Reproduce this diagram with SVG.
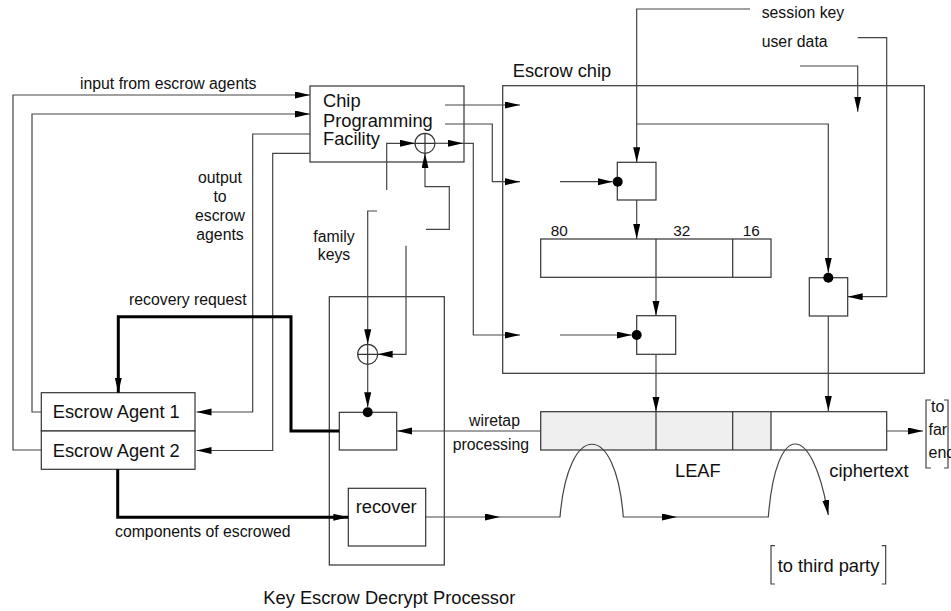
<svg xmlns="http://www.w3.org/2000/svg" width="951" height="611" viewBox="0 0 951 611">
<defs>
<style>
.ln{fill:none;stroke:#444;stroke-width:1.2}
.th{fill:none;stroke:#000;stroke-width:3}
.bx{fill:#fff;stroke:#333;stroke-width:1.2}
.dv{stroke:#333;stroke-width:1.2}
.dot{fill:#000}
text{font-family:"Liberation Sans",Arial,sans-serif;fill:#111}
.sm{font-size:15.8px}
.lg{font-size:18.3px}
.md{font-size:15.3px}
.fe{font-size:16px}
</style>
<marker id="ah" markerUnits="userSpaceOnUse" markerWidth="16" markerHeight="8" refX="15" refY="3.5" orient="auto"><path d="M0,0 L15,3.5 L0,7 z" fill="#000"/></marker>
</defs>
<rect width="951" height="611" fill="#fff"/>

<g id="cpf">
<rect class="bx" x="310" y="86" width="154" height="76"/>
<text class="lg" x="323" y="107">Chip</text>
<text class="lg" x="323" y="127">Programming</text>
<text class="lg" x="323" y="145">Facility</text>
<circle class="bx" cx="425" cy="143.3" r="10"/>
<path class="dv" d="M415,143.3 H435 M425,133.3 V153.3"/>
</g>

<g id="escrow-chip">
<rect class="bx" x="502.7" y="85.7" width="421.6" height="287.6" fill="none"/>
<text class="lg" x="512.7" y="76.7">Escrow chip</text>
</g>

<g id="box1">
<rect class="bx" x="617.3" y="162.3" width="38.7" height="37.7"/>
<circle class="dot" cx="617.7" cy="181.7" r="5"/>
</g>

<g id="register">
<rect class="bx" x="540.7" y="239" width="230.3" height="38.3"/>
<path class="dv" d="M656,239 V277.3 M732.7,239 V277.3"/>
<text class="md" x="550.7" y="235.7">80</text>
<text class="md" x="673.3" y="235.7">32</text>
<text class="md" x="742.7" y="235.7">16</text>
</g>

<g id="box2">
<rect class="bx" x="636.7" y="315.7" width="39" height="38.6"/>
<circle class="dot" cx="636.7" cy="335" r="5"/>
</g>

<g id="box3">
<rect class="bx" x="809.3" y="277.7" width="38.4" height="38.3"/>
<circle class="dot" cx="828.3" cy="277.7" r="5"/>
</g>

<g id="kedp">
<rect class="bx" x="329.3" y="296.7" width="115" height="268.3" fill="none"/>
<text class="lg" x="263.3" y="604">Key Escrow Decrypt Processor</text>
</g>

<g id="xor2">
<circle class="bx" cx="367.7" cy="354.3" r="10"/>
<path class="dv" d="M357.7,354.3 H377.7 M367.7,344.3 V364.3"/>
</g>

<g id="decrypt-box">
<rect class="bx" x="339.3" y="412.3" width="57.4" height="37.7"/>
<circle class="dot" cx="367.7" cy="412.3" r="5"/>
</g>

<g id="recover">
<rect class="bx" x="348.3" y="488.3" width="77.4" height="57.7"/>
<text class="lg" x="355.7" y="513.3">recover</text>
</g>

<g id="agent1">
<rect class="bx" x="41.3" y="392.7" width="153.7" height="38.3"/>
<text class="lg" x="52.7" y="417.7">Escrow Agent 1</text>
</g>

<g id="agent2">
<rect class="bx" x="41.3" y="431" width="153.7" height="38.3"/>
<text class="lg" x="52.7" y="456.7">Escrow Agent 2</text>
</g>

<g id="leaf">
<rect x="540.7" y="411.7" width="230.3" height="38.3" fill="#efefef"/>
<rect x="540.7" y="411.7" width="346" height="38.3" fill="none" stroke="#333" stroke-width="1.2"/>
<path class="dv" d="M656,411.7 V450 M732.7,411.7 V450 M771,411.7 V450"/>
<text class="lg" x="675" y="476.7">LEAF</text>
<text class="lg" x="829.3" y="476.7">ciphertext</text>
</g>

<g id="third-party">
<path class="ln" d="M775,545.7 H771 V584 H775 M881.7,545.7 H885.7 V584 H881.7"/>
<text class="lg" x="777.7" y="571.7">to third party</text>
</g>

<g id="far-end">
<path class="ln" d="M931,400 H926 V468 H931 M944,400 H948 V468 H944"/>
<text class="fe" x="931" y="412.3">to</text>
<text class="fe" x="928.5" y="435">far</text>
<text class="fe" x="928.5" y="457.5">end</text>
</g>

<g id="labels">
<text class="sm" x="80" y="89.3">input from escrow agents</text>
<text class="sm" x="220" y="182.7" text-anchor="middle">output</text>
<text class="sm" x="220" y="201.7" text-anchor="middle">to</text>
<text class="sm" x="220" y="220.7" text-anchor="middle">escrow</text>
<text class="sm" x="220" y="240.3" text-anchor="middle">agents</text>
<text class="sm" x="334" y="241.7" text-anchor="middle">family</text>
<text class="sm" x="334" y="259.5" text-anchor="middle">keys</text>
<text class="sm" x="129" y="305">recovery request</text>
<text class="sm" x="115" y="537.3">components of escrowed</text>
<text class="sm" x="469" y="425.7">wiretap</text>
<text class="sm" x="452.7" y="450">processing</text>
<text class="sm" x="761.7" y="18">session key</text>
<text class="sm" x="761.7" y="46.7">user data</text>
</g>

<g id="connectors">
<path class="ln" d="M41.3,450 H13 V95 H310" marker-end="url(#ah)"/>
<path class="ln" d="M41.3,412 H32 V114 H310" marker-end="url(#ah)"/>
<path class="ln" d="M310,134 H252.7 V412 H196.5" marker-end="url(#ah)"/>
<path class="ln" d="M310,153.3 H272.7 V450.5 H196.5" marker-end="url(#ah)"/>
<path class="ln" d="M445,105 H520" marker-end="url(#ah)"/>
<path class="ln" d="M445,124 H492.3 V181.7 H520" marker-end="url(#ah)"/>
<path class="ln" d="M435,143.3 H463" marker-end="url(#ah)"/>
<path class="ln" d="M463,143.3 H473.3 V335 H520" marker-end="url(#ah)"/>
<path class="ln" d="M386.7,190 V143.3 H415" marker-end="url(#ah)"/>
<path class="ln" d="M426,229.3 H449.3 V186.7 H425 V153.3" marker-end="url(#ah)"/>
<path class="ln" d="M377,211 H367.7 V344.3" marker-end="url(#ah)"/>
<path class="ln" d="M406,245.7 V354.3 H377.7" marker-end="url(#ah)"/>
<path class="ln" d="M367.7,364.3 V407.3" marker-end="url(#ah)"/>
<path class="th" d="M339.3,431 H291 V316.7 H118.3 V392.7" marker-end="url(#ah)"/>
<path class="th" d="M117.7,469.3 V517.3 H348.3" marker-end="url(#ah)"/>
<path class="ln" d="M540.7,431 H397" marker-end="url(#ah)"/>
<path class="ln" d="M425.7,517 H500" marker-end="url(#ah)"/>
<path class="ln" d="M500,517 H560 C568,420 616,420 623.3,517 H677" marker-end="url(#ah)"/>
<path class="ln" d="M677,517 H768.3 C776,420 812,420 828.3,515" marker-end="url(#ah)"/>
<path class="ln" d="M886.7,431 H923" marker-end="url(#ah)"/>
<path class="ln" d="M750,9 H636.7 V162.3" marker-end="url(#ah)"/>
<path class="ln" d="M636.7,124 H828.3 V272.7" marker-end="url(#ah)"/>
<path class="ln" d="M857.7,37.7 H886.7 V296.7 H847.7" marker-end="url(#ah)"/>
<path class="ln" d="M800,66 H857.7 V111.7" marker-end="url(#ah)"/>
<path class="ln" d="M560,181.7 H612.7" marker-end="url(#ah)"/>
<path class="ln" d="M560,335 H631.7" marker-end="url(#ah)"/>
<path class="ln" d="M636.7,200 V239" marker-end="url(#ah)"/>
<path class="ln" d="M656,277.3 V315.7" marker-end="url(#ah)"/>
<path class="ln" d="M656,354.3 V411.7" marker-end="url(#ah)"/>
<path class="ln" d="M828.3,316 V411" marker-end="url(#ah)"/>
</g>
</svg>
